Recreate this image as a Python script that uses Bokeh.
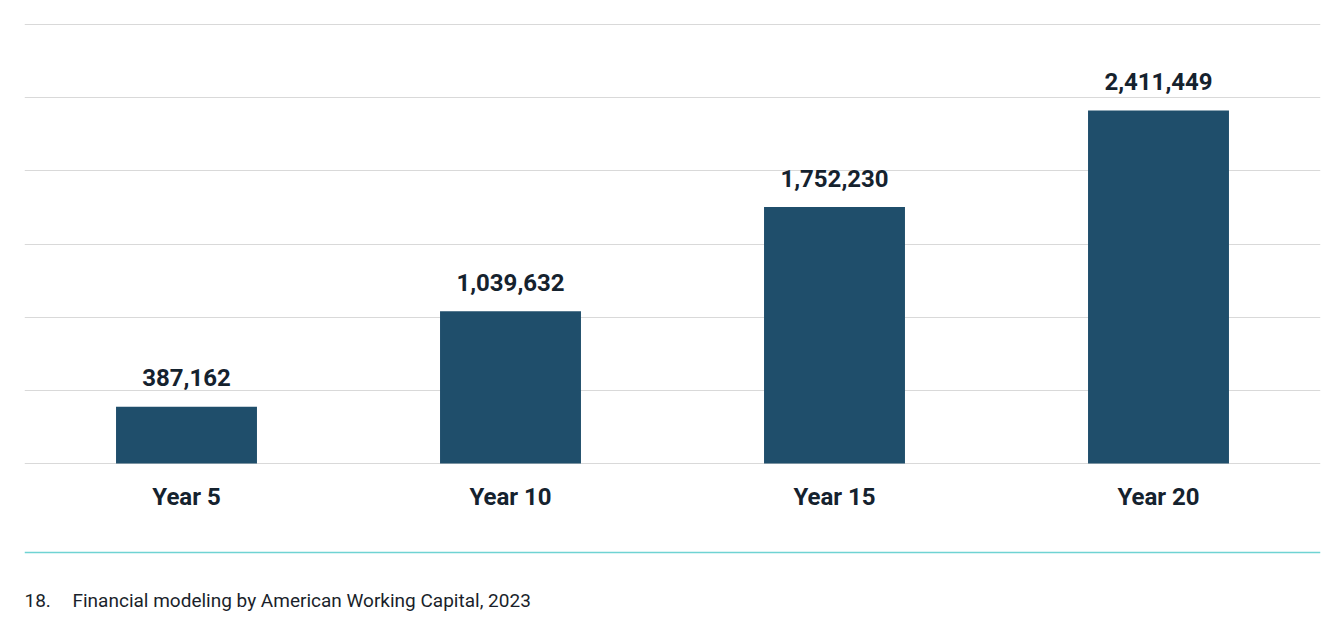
from bokeh.plotting import figure
from bokeh.models import ColumnDataSource, FixedTicker, Span, Label
from bokeh.core.properties import value
from bokeh.embed import file_html
from bokeh.resources import INLINE

# data
years = ["Year 5", "Year 10", "Year 15", "Year 20"]
amounts = [387162, 1039632, 1752230, 2411449]
labels = [f"{a:,}" for a in amounts]
grid_ticks = [0, 500000, 1000000, 1500000, 2000000, 2500000, 3000000]
footnote_num = "18."
footnote_text = "Financial modeling by American Working Capital, 2023"

y_max = 3000000
# 439px of the frame hold 0..3M, the rest below the baseline holds labels/footnote
px_per_unit = 439 / y_max
frame_top = 20
baseline_px = 463
fig_h = 625
y_top = y_max + (24 - frame_top) / px_per_unit
y_min = -(fig_h - baseline_px) / px_per_unit

def y_at(px_below_baseline):
    return -px_below_baseline / px_per_unit

source = ColumnDataSource(dict(years=years, amounts=amounts, labels=labels))

p = figure(
    x_range=years,
    y_range=(y_min, y_top),
    width=1324,
    height=fig_h,
    output_backend="svg",
    toolbar_location=None,
    min_border_left=24,
    min_border_right=4,
    min_border_top=frame_top,
    min_border_bottom=0,
)
p.x_range.range_padding = 0
p.outline_line_color = None
p.background_fill_color = "white"
p.border_fill_color = "white"

p.xaxis.visible = False
p.yaxis.visible = False
p.xgrid.grid_line_color = None
p.yaxis.ticker = FixedTicker(ticks=grid_ticks)
p.ygrid.ticker = FixedTicker(ticks=grid_ticks)
p.ygrid.grid_line_color = "#d9d9d9"
p.ygrid.grid_line_width = 1

p.vbar(x="years", top="amounts", width=0.435, source=source,
       color="#1f4e6b", line_color=None)

# value labels above bars
p.text(x="years", y="amounts", text="labels", source=source,
       text_font=value("Roboto"), text_font_style="bold",
       text_font_size="24px", text_color="#15222e",
       text_align="center", text_baseline="alphabetic", y_offset=-29)

# category labels below baseline
p.text(x="years", y=y_at(33), text="years", source=source,
       text_font=value("Roboto"), text_font_style="bold",
       text_font_size="24px", text_color="#15222e",
       text_align="center", text_baseline="alphabetic")

# teal separator
p.add_layout(Span(location=y_at(89), dimension="width",
                  line_color="#6fd3d3", line_width=1.5))

# footnote
p.add_layout(Label(x=0, y=y_at(137), x_units="screen", text=footnote_num,
                   text_font="Roboto", text_font_size="19px",
                   text_color="#1a1f2b", text_baseline="alphabetic"))
p.add_layout(Label(x=48, y=y_at(137), x_units="screen", text=footnote_text,
                   text_font="Roboto", text_font_size="19px",
                   text_color="#1a1f2b", text_baseline="alphabetic"))

open("out.html", "w").write(file_html(p, INLINE))
